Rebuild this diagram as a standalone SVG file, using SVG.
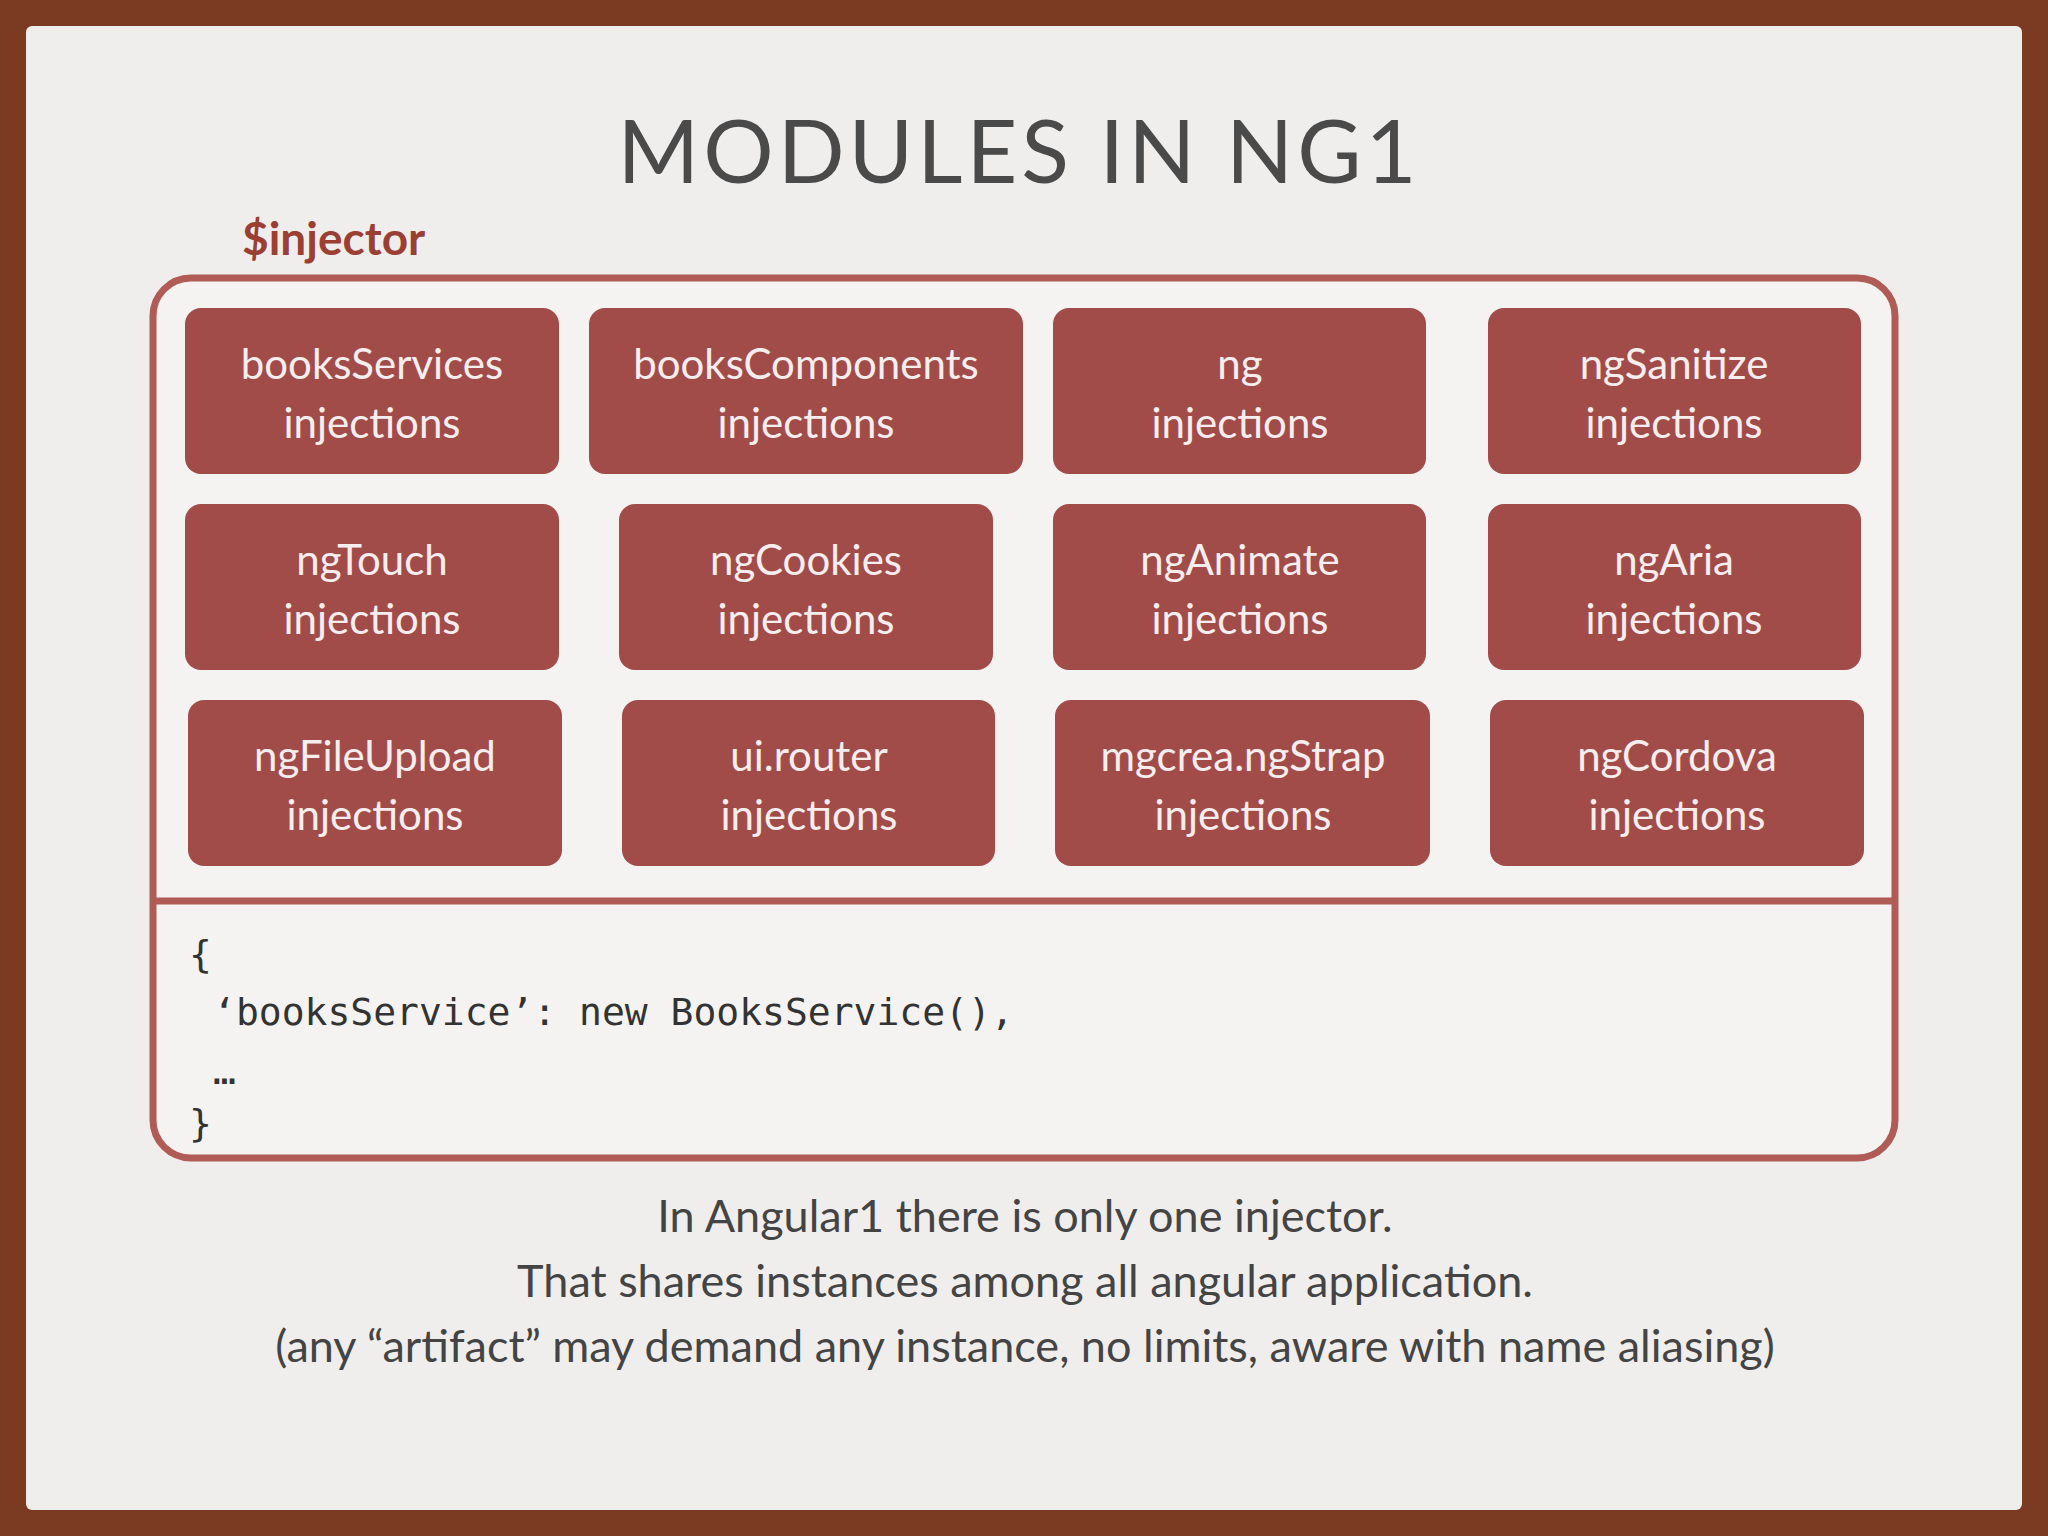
<svg xmlns="http://www.w3.org/2000/svg" width="2048" height="1536" viewBox="0 0 2048 1536">
<style>
.box{fill:#a24c4a;}
.bt{font-family:Lato,"Open Sans",sans-serif;font-size:42px;fill:#f6eeee;text-anchor:middle;}
.code{font-family:"DejaVu Sans Mono","Liberation Mono",monospace;font-size:38px;fill:#333;}
.cap{font-family:Lato,"Open Sans",sans-serif;font-size:45px;fill:#444;text-anchor:middle;}
</style>
<rect x="0" y="0" width="2048" height="1536" fill="#7a3b22"/>
<rect x="26" y="26" width="1996" height="1484" rx="6" fill="#efeeed"/>
<text x="1019" y="183" font-family="Lato,'Open Sans',sans-serif" font-size="88" fill="#4a4a4a" text-anchor="middle" letter-spacing="4">MODULES IN NG1</text>
<text x="242" y="255" font-family="Lato,'Open Sans',sans-serif" font-size="46" font-weight="bold" fill="#9b3f33">$injector</text>
<g id="injector">
<rect x="153" y="278" width="1742" height="880" rx="38" fill="#f4f3f2" stroke="#b05b55" stroke-width="7"/>
<line x1="153" y1="901" x2="1895" y2="901" stroke="#b05b55" stroke-width="7"/>
</g>
<g id="n1"><rect class="box" x="185" y="308" width="374" height="166" rx="16"/><text class="bt" x="372" y="379">booksServices</text><text class="bt" x="372" y="438">injections</text></g>
<g id="n2"><rect class="box" x="589" y="308" width="434" height="166" rx="16"/><text class="bt" x="806" y="379">booksComponents</text><text class="bt" x="806" y="438">injections</text></g>
<g id="n3"><rect class="box" x="1053" y="308" width="373" height="166" rx="16"/><text class="bt" x="1240" y="379">ng</text><text class="bt" x="1240" y="438">injections</text></g>
<g id="n4"><rect class="box" x="1488" y="308" width="373" height="166" rx="16"/><text class="bt" x="1674" y="379">ngSanitize</text><text class="bt" x="1674" y="438">injections</text></g>
<g id="n5"><rect class="box" x="185" y="504" width="374" height="166" rx="16"/><text class="bt" x="372" y="575">ngTouch</text><text class="bt" x="372" y="634">injections</text></g>
<g id="n6"><rect class="box" x="619" y="504" width="374" height="166" rx="16"/><text class="bt" x="806" y="575">ngCookies</text><text class="bt" x="806" y="634">injections</text></g>
<g id="n7"><rect class="box" x="1053" y="504" width="373" height="166" rx="16"/><text class="bt" x="1240" y="575">ngAnimate</text><text class="bt" x="1240" y="634">injections</text></g>
<g id="n8"><rect class="box" x="1488" y="504" width="373" height="166" rx="16"/><text class="bt" x="1674" y="575">ngAria</text><text class="bt" x="1674" y="634">injections</text></g>
<g id="n9"><rect class="box" x="188" y="700" width="374" height="166" rx="16"/><text class="bt" x="375" y="771">ngFileUpload</text><text class="bt" x="375" y="830">injections</text></g>
<g id="n10"><rect class="box" x="622" y="700" width="373" height="166" rx="16"/><text class="bt" x="809" y="771">ui.router</text><text class="bt" x="809" y="830">injections</text></g>
<g id="n11"><rect class="box" x="1055" y="700" width="375" height="166" rx="16"/><text class="bt" x="1243" y="771">mgcrea.ngStrap</text><text class="bt" x="1243" y="830">injections</text></g>
<g id="n12"><rect class="box" x="1490" y="700" width="374" height="166" rx="16"/><text class="bt" x="1677" y="771">ngCordova</text><text class="bt" x="1677" y="830">injections</text></g>
<g id="code">
<text class="code" x="189" y="967">{</text>
<text class="code" x="213" y="1025">‘booksService’: new BooksService(),</text>
<text class="code" x="213" y="1084">…</text>
<text class="code" x="189" y="1136">}</text>
</g>
<g id="caption">
<text class="cap" x="1025" y="1232">In Angular1 there is only one injector.</text>
<text class="cap" x="1025" y="1297">That shares instances among all angular application.</text>
<text class="cap" x="1025" y="1362">(any “artifact” may demand any instance, no limits, aware with name aliasing)</text>
</g>
<g id="connectors"/>
</svg>
